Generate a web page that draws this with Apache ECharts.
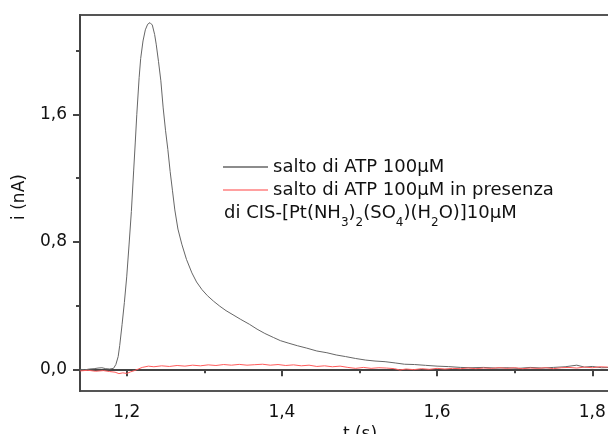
<!DOCTYPE html>
<html>
<head>
<meta charset="utf-8">
<script src="https://cdn.jsdelivr.net/npm/echarts@6/dist/echarts.min.js"></script>
<style>
  html, body { margin: 0; padding: 0; background: #ffffff; }
  #chart { width: 608px; height: 434px; }
</style>
</head>
<body>
<div id="chart"></div>
<script>
// tempo (s) e corrente (nA)
var atpT = [1.140, 1.146, 1.152, 1.158, 1.163, 1.168, 1.173, 1.178, 1.183, 1.186, 1.189, 1.191, 1.194, 1.197, 1.200, 1.203, 1.206, 1.209, 1.211, 1.213, 1.216, 1.218, 1.221, 1.224, 1.227, 1.230, 1.233, 1.236, 1.238, 1.241, 1.244, 1.247, 1.250, 1.253, 1.256, 1.259, 1.262, 1.266, 1.271, 1.277, 1.284, 1.290, 1.297, 1.304, 1.312, 1.320, 1.328, 1.337, 1.347, 1.358, 1.368, 1.378, 1.389, 1.398, 1.408, 1.420, 1.432, 1.445, 1.458, 1.470, 1.482, 1.495, 1.508, 1.520, 1.533, 1.546, 1.558, 1.571, 1.585, 1.600, 1.615, 1.630, 1.645, 1.660, 1.675, 1.690, 1.705, 1.720, 1.735, 1.750, 1.765, 1.780, 1.790, 1.800, 1.812, 1.825];
var atpI = [0.000, -0.003, 0.002, 0.004, 0.008, 0.010, 0.004, 0.002, 0.006, 0.030, 0.080, 0.150, 0.280, 0.420, 0.580, 0.780, 0.990, 1.250, 1.420, 1.600, 1.830, 1.950, 2.060, 2.130, 2.165, 2.175, 2.160, 2.100, 2.040, 1.930, 1.810, 1.640, 1.500, 1.380, 1.240, 1.120, 1.000, 0.880, 0.785, 0.690, 0.605, 0.548, 0.500, 0.462, 0.427, 0.396, 0.368, 0.342, 0.313, 0.283, 0.252, 0.225, 0.200, 0.180, 0.165, 0.148, 0.133, 0.115, 0.104, 0.090, 0.080, 0.068, 0.058, 0.052, 0.048, 0.040, 0.032, 0.030, 0.025, 0.020, 0.017, 0.012, 0.010, 0.012, 0.008, 0.010, 0.006, 0.012, 0.008, 0.012, 0.016, 0.026, 0.014, 0.018, 0.010, 0.012];

var cisT = [1.140, 1.150, 1.160, 1.170, 1.178, 1.185, 1.190, 1.195, 1.200, 1.205, 1.210, 1.215, 1.220, 1.228, 1.235, 1.245, 1.255, 1.265, 1.275, 1.285, 1.295, 1.305, 1.315, 1.325, 1.335, 1.345, 1.355, 1.365, 1.375, 1.385, 1.395, 1.405, 1.415, 1.425, 1.435, 1.445, 1.455, 1.465, 1.475, 1.485, 1.495, 1.505, 1.515, 1.525, 1.535, 1.545, 1.552, 1.560, 1.570, 1.580, 1.590, 1.600, 1.610, 1.620, 1.630, 1.640, 1.650, 1.660, 1.670, 1.680, 1.690, 1.700, 1.710, 1.720, 1.730, 1.740, 1.750, 1.760, 1.770, 1.780, 1.790, 1.800, 1.810, 1.820];
var cisI = [-0.010, -0.006, -0.012, -0.008, -0.014, -0.018, -0.027, -0.022, -0.026, -0.016, -0.008, 0.002, 0.012, 0.020, 0.016, 0.022, 0.018, 0.024, 0.020, 0.026, 0.022, 0.028, 0.024, 0.030, 0.026, 0.031, 0.026, 0.029, 0.032, 0.026, 0.030, 0.024, 0.028, 0.022, 0.026, 0.018, 0.022, 0.016, 0.020, 0.012, 0.006, 0.012, 0.006, 0.010, 0.008, 0.004, -0.004, 0.002, -0.002, 0.004, 0.000, 0.006, 0.002, 0.006, 0.004, 0.008, 0.004, 0.008, 0.006, 0.010, 0.006, 0.010, 0.004, 0.008, 0.006, 0.010, 0.004, 0.010, 0.012, 0.008, 0.014, 0.010, 0.016, 0.014];

var xMajor = [1.2, 1.4, 1.6, 1.8];
var xMinor = [1.3, 1.5, 1.7];
var yMajor = [0, 0.8, 1.6];
var yMinor = [0.4, 1.2, 2.0];

var nomeAtp = 'salto di ATP 100µM';
var nomeCis = 'salto di ATP 100µM in presenza';

function pairs(t, v) {
  var out = [];
  for (var k = 0; k < t.length; k++) out.push([t[k], v[k]]);
  return out;
}
function virgola(v) {
  return v.toFixed(1).replace('.', ',');
}

var FONT = 'DejaVu Sans';
var xRange = { min: 1.1398, max: 1.8615 };
var yRange = { min: -0.136, max: 2.223 };

let myChart = echarts.init(document.getElementById('chart'));
let option = {
  animation: false,
  grid: {
    left: 80, top: 15, width: 560, bottom: 43,
    outerBoundsMode: 'none',
    show: true, borderColor: '#555', borderWidth: 2
  },
  legend: {
    orient: 'vertical',
    left: 223, top: 157,
    padding: 0,
    itemWidth: 45, itemHeight: 1.5, itemGap: 3,
    icon: 'rect',
    textStyle: { fontFamily: FONT, fontSize: 18, color: '#111', lineHeight: 20 },
    data: [nomeAtp, nomeCis]
  },
  graphic: [{
    type: 'text',
    left: 224, top: 204,
    style: {
      text: '{n|di CIS-[Pt(NH}{s|3}{n|)}{s|2}{n|(SO}{s|4}{n|)(H}{s|2}{n|O)]10µM}',
      rich: {
        n: { fontFamily: FONT, fontSize: 18, lineHeight: 20, verticalAlign: 'top', fill: '#111' },
        s: { fontFamily: FONT, fontSize: 12, lineHeight: 12, padding: [13, 0, 0, 0], verticalAlign: 'top', fill: '#111' }
      }
    }
  }],
  xAxis: [{
    type: 'value', min: xRange.min, max: xRange.max,
    name: 't (s)', nameLocation: 'middle', nameGap: 32,
    nameTextStyle: { fontFamily: FONT, fontSize: 17, color: '#111' },
    axisLine: { show: true, lineStyle: { color: '#444', width: 2 } },
    axisTick: { show: true, length: 7, customValues: xMajor, lineStyle: { color: '#444', width: 2 } },
    axisLabel: { customValues: xMajor, margin: 13, fontFamily: FONT, fontSize: 17, color: '#111', formatter: virgola },
    splitLine: { show: false }
  }, {
    type: 'value', position: 'bottom', min: xRange.min, max: xRange.max,
    axisLine: { show: false },
    axisTick: { show: true, length: 4, customValues: xMinor, lineStyle: { color: '#444', width: 2 } },
    axisLabel: { show: false },
    splitLine: { show: false }
  }],
  yAxis: [{
    type: 'value', min: yRange.min, max: yRange.max,
    name: 'i (nA)', nameLocation: 'middle', nameGap: 52,
    nameTextStyle: { fontFamily: FONT, fontSize: 17, color: '#111', padding: [0, 0, 0, 12] },
    axisLine: { show: true, lineStyle: { color: '#444', width: 2 } },
    axisTick: { show: true, length: 7, customValues: yMajor, lineStyle: { color: '#444', width: 2 } },
    axisLabel: { customValues: yMajor, margin: 13, fontFamily: FONT, fontSize: 17, color: '#111', formatter: virgola },
    splitLine: { show: false }
  }, {
    type: 'value', position: 'left', min: yRange.min, max: yRange.max,
    axisLine: { show: false },
    axisTick: { show: true, length: 4, customValues: yMinor, lineStyle: { color: '#444', width: 2 } },
    axisLabel: { show: false },
    splitLine: { show: false }
  }],
  series: [{
    name: nomeAtp,
    type: 'line',
    showSymbol: false,
    lineStyle: { color: '#666', width: 1 },
    itemStyle: { color: '#666' },
    data: pairs(atpT, atpI)
  }, {
    name: nomeCis,
    type: 'line',
    showSymbol: false,
    lineStyle: { color: '#ff5c5c', width: 1 },
    itemStyle: { color: '#ff8080' },
    data: pairs(cisT, cisI)
  }]
};
myChart.setOption(option);
</script>
</body>
</html>
